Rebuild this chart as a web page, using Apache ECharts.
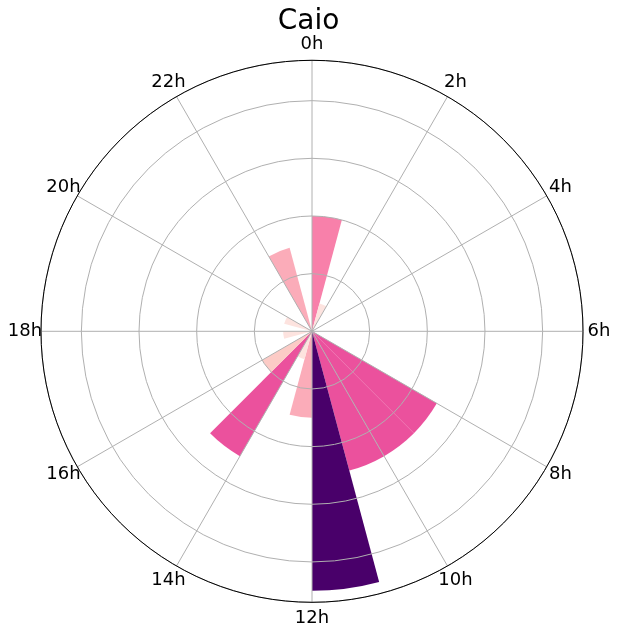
<!DOCTYPE html>
<html>
<head>
<meta charset="utf-8">
<script src="https://cdn.jsdelivr.net/npm/echarts@6/dist/echarts.min.js"></script>
<style>
  html, body { margin: 0; padding: 0; background: #fff; }
  #chart { width: 617px; height: 634px; }
</style>
</head>
<body>
<div id="chart"></div>
<script>
// ---- data ----
const title = 'Caio';
const hours = ['0h','1h','2h','3h','4h','5h','6h','7h','8h','9h','10h','11h',
               '12h','13h','14h','15h','16h','17h','18h','19h','20h','21h','22h','23h'];
const counts = [4, 1, 0, 0, 0, 0, 0, 0, 5, 5, 5, 9, 3, 1, 5, 2, 0, 1, 0, 1, 0, 0, 3, 0];
const tickLabels = ['0h','2h','4h','6h','8h','10h','12h','14h','16h','18h','20h','22h'];
const tickHours = [0, 2, 4, 6, 8, 10, 12, 14, 16, 18, 20, 22];
const radiusMax = 9.4;

// ---- RdPu colormap ----
const rdpu = ['#fff7f3','#fde0dd','#fcc5c0','#fa9fb5','#f768a1','#dd3497','#ae017e','#7a0177','#49006a'];
function hex2rgb(h){ return [parseInt(h.slice(1,3),16),parseInt(h.slice(3,5),16),parseInt(h.slice(5,7),16)]; }
function cmap(t){
  t = Math.max(0, Math.min(1, t));
  const p = t * (rdpu.length - 1);
  const i = Math.min(Math.floor(p), rdpu.length - 2);
  const f = p - i;
  const a = hex2rgb(rdpu[i]), b = hex2rgb(rdpu[i+1]);
  const c = a.map((v,k) => Math.round(v + (b[k]-v)*f));
  return 'rgb(' + c.join(',') + ')';
}
const vmax = Math.max(...counts);

const center = [312, 331.3];
const R = 271;
const labelR = R + 16;
const gridColor = '#b0b0b0';

const chart = echarts.init(document.getElementById('chart'), null, {renderer: 'canvas'});
chart.setOption({
  animation: false,
  backgroundColor: '#ffffff',
  title: {
    text: title, left: 'center', top: 3,
    textStyle: { fontFamily: 'DejaVu Sans', fontSize: 28, fontWeight: 'normal', color: '#000' }
  },
  polar: [
    { center: center, radius: R },
    { center: center, radius: R },
    { center: center, radius: labelR }
  ],
  angleAxis: [
    {
      polarIndex: 0, type: 'category', data: hours, startAngle: 90, clockwise: true,
      boundaryGap: true,
      axisLine: { show: false }, axisTick: { show: false }, axisLabel: { show: false },
      splitLine: { show: false }
    },
    {
      polarIndex: 1, type: 'value', min: 0, max: 24, interval: 2, startAngle: 90, clockwise: true,
      z: 5,
      axisLine: { show: true, lineStyle: { color: '#000', width: 1 } },
      axisTick: { show: false },
      axisLabel: { show: false },
      splitLine: { show: true, lineStyle: { color: gridColor, width: 1 } }
    },
    {
      polarIndex: 2, type: 'value', min: 0, max: 24, interval: 2, startAngle: 90, clockwise: true,
      show: false
    }
  ],
  radiusAxis: [
    {
      polarIndex: 0, type: 'value', min: 0, max: radiusMax, interval: 2, z: 5,
      axisLine: { show: false }, axisTick: { show: false }, axisLabel: { show: false },
      splitLine: { show: true, lineStyle: { color: gridColor, width: 1 } }
    },
    { polarIndex: 1, type: 'value', min: 0, max: radiusMax, show: false },
    { polarIndex: 2, type: 'value', min: 0, max: 1, show: false }
  ],
  series: [
    {
      type: 'bar',
      coordinateSystem: 'polar',
      polarIndex: 0,
      barCategoryGap: '0%',
      barWidth: '100%',
      data: counts.map(v => ({ value: v, itemStyle: { color: cmap(v / vmax) } })),
      z: 2
    },
    {
      type: 'scatter',
      coordinateSystem: 'polar',
      polarIndex: 2,
      silent: true,
      symbol: 'circle',
      symbolSize: 0,
      itemStyle: { color: '#ffffff', opacity: 1 },
      data: tickHours.map((h, i) => ({ value: [1, h], name: tickLabels[i] })),
      label: {
        show: true, position: 'inside', formatter: '{b}',
        color: '#000000', opacity: 1, textBorderWidth: 0,
        fontFamily: 'DejaVu Sans', fontSize: 18,
        align: 'center', verticalAlign: 'middle'
      },
      z: 6
    }
  ]
});
</script>
</body>
</html>
